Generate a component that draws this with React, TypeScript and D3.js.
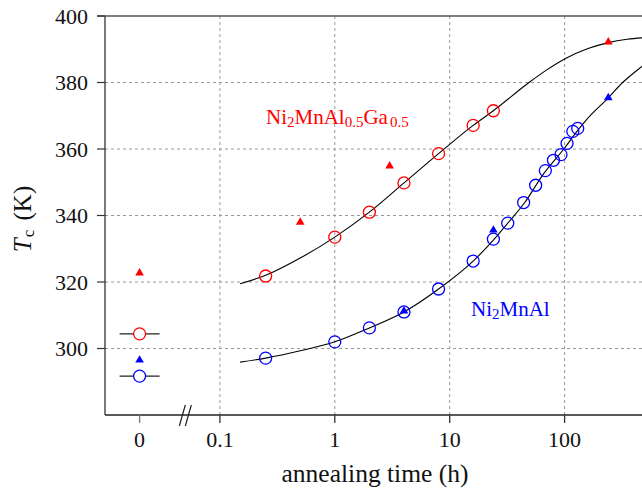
import React from "react";
import * as d3 from "d3";

// ---- data (time in h, Tc in K); time 0 = as-quenched ----
const xTicks = [0, 0.1, 1, 10, 100];
const yTicks = [300, 320, 340, 360, 380, 400];

const redCircleTime = [0.25, 1, 2, 4, 8, 16, 24];
const redCircleTc = [321.8, 333.5, 341, 349.8, 358.6, 367.1, 371.5];
const redTriTime = [0, 0.5, 3, 240];
const redTriTc = [322.7, 338, 354.9, 392.2];

const blueCircleTime = [0.25, 1, 2, 4, 8, 16, 24, 32, 44, 56, 68, 80, 93, 105, 118, 130];
const blueCircleTc = [297.1, 302, 306.2, 311, 317.9, 326.3, 332.9, 337.7, 343.9, 349.1, 353.5, 356.6, 358.3, 361.7, 365.3, 366.2];
const blueTriTime = [0, 4, 24, 240];
const blueTriTc = [296.5, 311.3, 335.6, 375.4];

// as-quenched values with horizontal bars
const zeroCircleTc = [304.4, 291.7];
const zeroCircleColor = ["red", "blue"];

// fitted curves
const redFitTime = [0.15, 0.25, 0.5, 1, 2, 4, 8, 16, 24, 49, 70, 103, 160, 240, 350, 520];
const redFitTc = [319.5, 322, 327.2, 333.5, 341, 349.8, 358.6, 367.1, 371.5, 380, 383.8, 387.3, 390.2, 392, 393, 393.5];
const blueFitTime = [0.15, 0.25, 0.5, 1, 2, 4, 8, 16, 24, 32, 45, 64, 100, 130, 154, 240, 320, 470, 520];
const blueFitTc = [295.9, 297.1, 299.3, 302, 306.2, 311, 317.9, 326.3, 332.6, 337.7, 343.9, 352, 360.3, 365.6, 368.7, 375.4, 380, 384.8, 386];

const ZERO_POS = 0.02; // where t = 0 is placed on the broken log axis
const BREAK_POS = 0.05;

const W = 642, H = 489;
const RED = "#ff0000";
const BLUE = "#0000ff";
const FONT = "Liberation Serif, DejaVu Serif, serif";

export default function App() {
  const x = d3.scaleLog().domain([0.01, 1000]).range([105, 679.5]);
  const y = d3.scaleLinear().domain([280, 400]).range([415, 16]);
  const xp = (t: number) => (t === 0 ? x(ZERO_POS) : x(t));
  const left = x(0.01);
  const bottom = y(280);
  const top = y(400);

  const line = d3
    .line<[number, number]>()
    .x((d) => xp(d[0]))
    .y((d) => y(d[1]))
    .curve(d3.curveMonotoneX);

  const tri = d3.symbol().type(d3.symbolTriangle).size(32)() as string;
  const r = 6;

  const redFit = redFitTime.map((t, i) => [t, redFitTc[i]] as [number, number]);
  const blueFit = blueFitTime.map((t, i) => [t, blueFitTc[i]] as [number, number]);
  const bx = x(BREAK_POS);
  const ts = { fontFamily: FONT };

  return (
    <svg width={W} height={H} style={{ position: "absolute", left: 0, top: 0, background: "#fff", fontFamily: FONT }}>
      <rect width={W} height={H} fill="#fff" />
      {/* grid */}
      {xTicks.filter((t) => t > 0).map((t) => (
        <line key={"gx" + t} x1={x(t)} x2={x(t)} y1={top} y2={bottom} stroke="#999" strokeDasharray="3,3" strokeWidth={1} />
      ))}
      {yTicks.filter((v) => v < 400).map((v) => (
        <line key={"gy" + v} x1={left} x2={W} y1={y(v)} y2={y(v)} stroke="#999" strokeDasharray="3,3" strokeWidth={1} />
      ))}
      {/* axes */}
      <line x1={left} x2={left} y1={top} y2={bottom} stroke="#333" strokeWidth={1.3} />
      <line x1={left - 8} x2={W} y1={top} y2={top} stroke="#555" strokeWidth={1.3} />
      <line x1={left} x2={W} y1={bottom} y2={bottom} stroke="#222" strokeWidth={1.3} />
      {yTicks.map((v) => (
        <g key={"yt" + v}>
          <line x1={left - 8} x2={left} y1={y(v)} y2={y(v)} stroke="#333" strokeWidth={1.2} />
          <text x={left - 17} y={y(v)} dy="0.35em" textAnchor="end" fontSize={22} fill="#111" style={ts}>
            {v}
          </text>
        </g>
      ))}
      {xTicks.map((t) => (
        <g key={"xt" + t}>
          <line x1={xp(t)} x2={xp(t)} y1={bottom} y2={bottom + 8} stroke={t === 0 ? "#777" : "#333"} strokeWidth={1.3} />
          <text x={xp(t)} y={bottom + 32} textAnchor="middle" fontSize={22} fill="#111" style={ts}>
            {t}
          </text>
        </g>
      ))}
      {/* axis break */}
      <line x1={bx - 6} x2={bx} y1={bottom + 11} y2={bottom - 10} stroke="#222" strokeWidth={1.2} />
      <line x1={bx} x2={bx + 6} y1={bottom + 11} y2={bottom - 10} stroke="#222" strokeWidth={1.2} />

      {/* labels */}
      <text x={375} y={482} textAnchor="middle" fontSize={25.5} fill="#111" style={ts}>
        annealing time (h)
      </text>
      <text transform={`translate(31,219) rotate(-90)`} textAnchor="middle" fontSize={25} fill="#111" style={ts}>
        <tspan fontStyle="italic">T</tspan>
        <tspan fontSize={17} dy={3} dx={1}>c</tspan>
        <tspan dy={-3} dx={3}> (K)</tspan>
      </text>

      {/* fit curves */}
      <path d={line(redFit) || ""} fill="none" stroke="#000" strokeWidth={1.1} />
      <path d={line(blueFit) || ""} fill="none" stroke="#000" strokeWidth={1.1} />

      {/* as-quenched bars */}
      {zeroCircleTc.map((v, i) => (
        <g key={"zq" + i}>
          <line x1={xp(0) - 20} x2={xp(0) + 20} y1={y(v)} y2={y(v)} stroke="#222" strokeWidth={1.2} />
          <circle cx={xp(0)} cy={y(v)} r={r} fill="#fff" stroke={zeroCircleColor[i] === "red" ? RED : BLUE} strokeWidth={1.3} />
        </g>
      ))}

      {/* markers */}
      {redCircleTime.map((t, i) => (
        <circle key={"rc" + i} cx={xp(t)} cy={y(redCircleTc[i])} r={r} fill="none" stroke={RED} strokeWidth={1.3} />
      ))}
      {redTriTime.map((t, i) => (
        <path key={"rt" + i} d={tri} transform={`translate(${xp(t)},${y(redTriTc[i])})`} fill={RED} />
      ))}
      {blueTriTime.map((t, i) => (
        <path key={"bt" + i} d={tri} transform={`translate(${xp(t)},${y(blueTriTc[i])})`} fill={BLUE} />
      ))}
      {blueCircleTime.map((t, i) => (
        <circle key={"bc" + i} cx={xp(t)} cy={y(blueCircleTc[i])} r={r} fill="none" stroke={BLUE} strokeWidth={1.3} />
      ))}

      {/* annotations */}
      <text x={266} y={124} fontSize={21} fill={RED} style={ts}>
        Ni<tspan fontSize={15} dy={3}>2</tspan>
        <tspan dy={-3}>MnAl</tspan>
        <tspan fontSize={15} dy={3}>0.5</tspan>
        <tspan dy={-3}>Ga</tspan>
        <tspan fontSize={15} dy={3} dx={2}>0.5</tspan>
      </text>
      <text x={471} y={316} fontSize={21} fill={BLUE} style={ts}>
        Ni<tspan fontSize={15} dy={3}>2</tspan>
        <tspan dy={-3}>MnAl</tspan>
      </text>
    </svg>
  );
}
